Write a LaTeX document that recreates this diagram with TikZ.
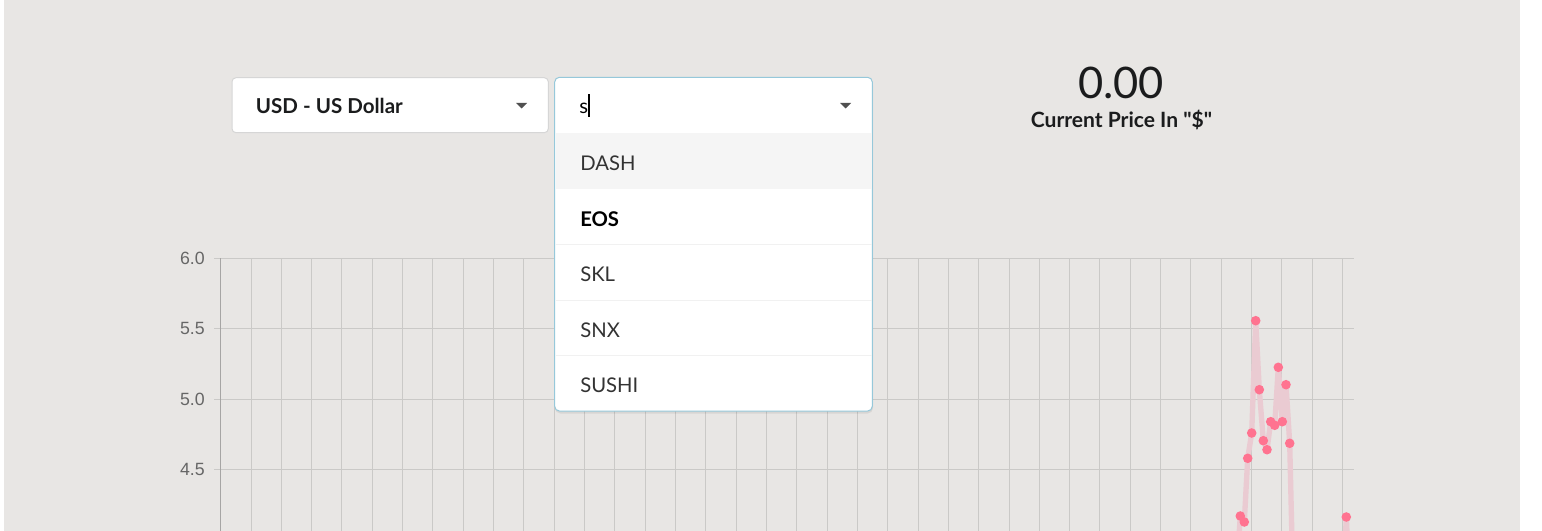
\documentclass[tikz,border=0pt]{standalone}
\usepackage{fontspec}
\setmainfont{Lato}[Ligatures=TeXOff]
\newfontfamily\tickfont{Liberation Sans}
\usetikzlibrary{positioning}

\definecolor{pagegray}{HTML}{E8E6E4}
\definecolor{gridgray}{HTML}{CAC9C7}
\definecolor{axisgray}{HTML}{A6A5A4}
\definecolor{ticktext}{HTML}{666666}
\definecolor{boxborder}{HTML}{D6D6D6}
\definecolor{focusblue}{HTML}{96C8DA}
\definecolor{itemtext}{HTML}{333333}
\definecolor{hoverrow}{HTML}{F5F5F5}
\definecolor{rowline}{HTML}{F1F1F1}
\definecolor{dotpink}{HTML}{FF7390}
\definecolor{linepink}{HTML}{EACBD2}
\definecolor{caretgray}{HTML}{505050}
\definecolor{pricetext}{HTML}{1B1C1D}

\tikzset{
	gridline/.style={draw=gridgray, line width=0.75pt},
	ticklabel/.style={anchor=east, text=ticktext, inner sep=0pt, font=\tickfont\fontsize{13.3}{15}\selectfont},
	menuitem/.style={anchor=base west, text=itemtext, inner sep=0pt, font=\fontsize{15.2}{18}\selectfont},
	pricedot/.style={fill=dotpink, draw=none},
	caret/.style={fill=caretgray, draw=none}
}

\begin{document}
\begin{tikzpicture}[x=0.75pt,y=-0.75pt]
	% page
	\useasboundingbox (0,0) rectangle (1542,531);
	\fill[white] (0,0) rectangle (1542,531);
	\fill[pagegray] (4,0) rectangle (1520,531);

	% chart grid
	\foreach \i in {1,...,37}
		\draw[gridline] ({220.7+30.32*\i},258.3) -- ({220.7+30.32*\i},531);
	\foreach \v/\y [count=\k] in {6.0/258.3,5.5/328.8,5.0/399.3,4.5/469.8} {
		\draw[gridline] (214,\y) -- (1354,\y);
		\node[ticklabel] (tick\k) at (205,\y) {\v};
	}
	\draw[axisgray, line width=0.75pt] (220.7,258.3) -- (220.7,531);

	% price line
	\begin{scope}
		\clip (4,250) rectangle (1520,531);
		\draw[linepink, line width=4pt, line join=round]
			(1236.6,571) -- (1240.3,516) -- (1244.3,522) -- (1247.7,458.3) -- (1251.7,433)
			-- (1255.7,320.7) -- (1259.3,389.7) -- (1263.3,440.7) -- (1267,449.7)
			-- (1270.7,421.7) -- (1274.7,425.3) -- (1278.3,367.3) -- (1282.3,421.7)
			-- (1286,384.7) -- (1289.7,443.3) -- (1293.4,600);
		\draw[linepink, line width=4pt, line join=round]
			(1342.6,600) -- (1346.3,517) -- (1350,600);
		\foreach \x/\y in {1240.3/516,1244.3/522,1247.7/458.3,1251.7/433,1255.7/320.7,
			1259.3/389.7,1263.3/440.7,1267/449.7,1270.7/421.7,1274.7/425.3,
			1278.3/367.3,1282.3/421.7,1286/384.7,1289.7/443.3,1346.3/517}
			\fill[pricedot] (\x,\y) circle [radius=3.6pt];
	\end{scope}

	% currency select
	\draw[fill=white, draw=boxborder, line width=0.75pt, rounded corners=3pt] (232,77.7) rectangle (548.3,132.7);
	\node[anchor=base west, inner sep=0pt, font=\bfseries\fontsize{15.4}{18}\selectfont, text=pricetext] (currency) at (255.7,114) {USD - US Dollar};
	\fill[caret] (516.2,103) -- (527.2,103) -- (521.7,108.5) -- cycle;

	% coin search menu
	\fill[black, opacity=0.07, rounded corners=4pt] (555,80) rectangle (873,413.5);
	\draw[fill=white, draw=focusblue, line width=0.75pt, rounded corners=3.5pt] (554.7,77.3) rectangle (872.3,411);
	\fill[hoverrow] (555.5,133) rectangle (871.5,189);
	\foreach \y in {244.3,300,355.7}
		\draw[rowline, line width=0.75pt] (555.5,\y) -- (871.5,\y);
	\node[anchor=base west, inner sep=0pt, font=\fontsize{15.2}{18}\selectfont, text=black] (query) at (579,113.7) {s};
	\draw[black, line width=1pt] (589,94.3) -- (589,116.7);
	\fill[caret] (840,103) -- (851,103) -- (845.5,108.5) -- cycle;
	\node[menuitem] (dash) at (580,170.7) {DASH};
	\node[menuitem, text=black, font=\bfseries\fontsize{15.2}{18}\selectfont] (eos) at (580,226) {EOS};
	\node[menuitem] (skl) at (580,281.7) {SKL};
	\node[menuitem] (snx) at (580,337) {SNX};
	\node[menuitem] (sushi) at (580,392.3) {SUSHI};

	% current price
	\node[anchor=base, inner sep=0pt, text=pricetext, font=\fontsize{32.6}{38}\selectfont] (price) at (1121,98.3) {0.00};
	\node[anchor=base, inner sep=0pt, text=pricetext, font=\bfseries\fontsize{15.8}{19}\selectfont] (pricelabel) at (1121.5,127.3) {Current Price In "\$"};
\end{tikzpicture}
\end{document}
